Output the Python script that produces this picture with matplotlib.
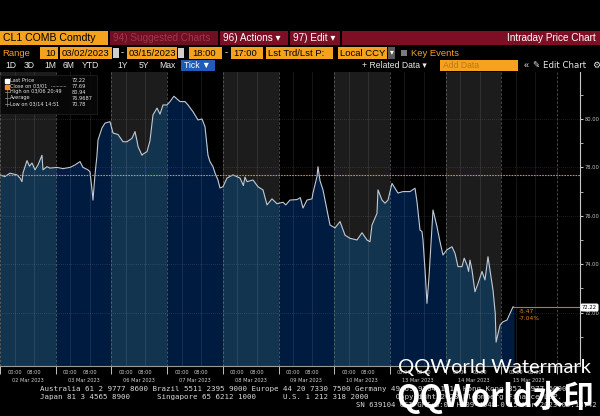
import matplotlib
matplotlib.use("Agg")
import matplotlib.pyplot as plt
from matplotlib.patches import Rectangle
import pandas as pd
import numpy as np

# ---------------- data ----------------
session_days = ["03-02", "03-03", "03-06", "03-07", "03-08",
                "03-09", "03-10", "03-13", "03-14", "03-15"]
session_labels = ["02 Mar 2023", "03 Mar 2023", "06 Mar 2023", "07 Mar 2023",
                  "08 Mar 2023", "09 Mar 2023", "10 Mar 2023", "13 Mar 2023",
                  "14 Mar 2023", "15 Mar 2023"]
session_open_prev_day = ["03-01", "03-02", "03-05", "03-06", "03-07",
                         "03-08", "03-09", "03-12", "03-13", "03-14"]

times = [
    "03-01 18:00", "03-01 20:00", "03-01 22:08", "03-02 01:00", "03-02 02:15", "03-02 03:05",
    "03-02 03:30", "03-02 05:09", "03-02 06:10", "03-02 07:13", "03-02 08:27", "03-02 09:41",
    "03-02 11:20", "03-02 11:45", "03-02 13:24", "03-02 14:39",
    "03-02 18:32", "03-02 21:00", "03-02 23:54", "03-03 01:58", "03-03 04:02",
    "03-03 05:16", "03-03 07:20", "03-03 08:10", "03-03 09:00", "03-03 09:24",
    "03-03 10:13", "03-03 11:03", "03-03 11:28", "03-03 13:07", "03-03 14:21",
    "03-03 16:25",
    "03-05 18:40", "03-05 20:44", "03-05 22:48", "03-06 00:26", "03-06 02:30",
    "03-06 03:45", "03-06 04:34", "03-06 05:00", "03-06 06:38", "03-06 07:03",
    "03-06 08:42", "03-06 09:56", "03-06 11:11", "03-06 12:50", "03-06 14:04",
    "03-06 15:18", "03-06 16:58",
    "03-06 19:12", "03-06 20:49", "03-06 23:20", "03-07 01:24", "03-07 02:38",
    "03-07 04:42", "03-07 06:46", "03-07 08:25", "03-07 09:39", "03-07 10:53",
    "03-07 11:42", "03-07 12:57", "03-07 13:47", "03-07 15:00", "03-07 15:50",
    "03-07 18:05", "03-07 19:44", "03-07 22:12", "03-08 01:06", "03-08 02:30",
    "03-08 03:10", "03-08 04:00",
    "03-08 06:28", "03-08 08:32", "03-08 10:36", "03-08 12:15", "03-08 14:19",
    "03-08 16:22",
    "03-08 19:52", "03-08 21:00", "03-08 22:45", "03-09 01:38", "03-09 03:00",
    "03-09 04:07", "03-09 05:46",
    "03-09 07:50", "03-09 08:14", "03-09 09:53", "03-09 10:18", "03-09 11:08",
    "03-09 12:22", "03-09 14:02", "03-09 15:16",
    "03-09 18:20", "03-09 20:24", "03-09 22:28", "03-10 00:31", "03-10 03:25",
    "03-10 05:29", "03-10 07:32", "03-10 08:47", "03-10 09:36", "03-10 11:40",
    "03-10 12:05", "03-10 13:44", "03-10 14:58", "03-10 16:13",
    "03-12 18:52", "03-12 20:06", "03-12 21:20", "03-12 23:24", "03-13 02:18",
    "03-13 04:22", "03-13 05:11", "03-13 06:26", "03-13 07:15", "03-13 07:40",
    "03-13 08:30", "03-13 09:19", "03-13 10:09", "03-13 11:23", "03-13 11:48",
    "03-13 13:27", "03-13 14:41", "03-13 15:55",
    "03-13 18:35", "03-13 20:38", "03-13 21:53", "03-13 23:07", "03-14 00:46",
    "03-14 01:40", "03-14 02:50", "03-14 03:30", "03-14 04:04", "03-14 04:54",
    "03-14 06:08", "03-14 07:23",
    "03-14 09:02", "03-14 10:16", "03-14 11:30", "03-14 12:20", "03-14 13:34",
    "03-14 14:30", "03-14 14:51", "03-14 16:30",
    "03-14 18:42", "03-14 20:21", "03-14 21:36", "03-14 22:50", "03-14 23:15",
]
prices = [
    77.69, 77.62, 77.76, 77.69, 77.56, 77.41, 77.77, 78.28, 78.05, 78.18, 77.90, 78.10,
    78.50, 77.90, 78.03, 77.97,
    78.00, 77.95, 78.00, 78.10, 78.24, 78.00, 77.90, 77.82, 77.07, 76.65,
    77.69, 78.50, 79.13, 79.63, 79.83, 79.89,
    79.42, 79.36, 79.06, 79.06, 79.20, 79.48, 79.10, 78.86, 78.50, 78.55,
    78.65, 79.10, 80.17, 80.45, 80.20, 80.58, 80.58,
    80.72, 80.94, 80.72, 80.72, 80.58, 80.30, 79.96, 80.00, 79.68, 78.50,
    78.24, 78.03, 77.77, 77.48, 77.15,
    77.20, 77.56, 77.69, 77.56, 77.25, 77.60, 77.41,
    77.48, 77.20, 77.07, 76.45, 76.70, 76.50,
    76.56, 76.45, 76.65, 76.67, 76.75, 76.32, 76.65,
    76.70, 76.94, 77.62, 78.03, 77.45, 77.07, 76.24, 75.62,
    75.50, 75.76, 75.20, 75.07, 75.00, 75.30, 75.00, 74.93, 75.62, 76.10,
    77.07, 76.65, 76.52, 76.65,
    77.34, 77.14, 76.94, 77.00, 77.00, 77.14, 76.58, 75.41, 75.35, 75.00,
    73.76, 72.38, 73.48, 75.55, 76.24, 75.55, 74.93, 74.38,
    74.60, 74.72, 74.45, 73.90, 73.90, 74.25, 73.97, 73.70, 74.17, 73.76,
    72.86, 73.20,
    73.70, 73.35, 74.31, 73.76, 72.93, 71.97, 70.78, 71.49,
    71.62, 71.69, 71.97, 72.24, 72.22,
]

close_prev = 77.69
last_price = 72.22
net_change = "-5.47"
pct_change = "-7.04%"
ytick_values = [72, 74, 76, 78, 80]
ytick_labels = ["72.00", "74.00", "76.00", "78.00", "80.00"]

legend_rows = [("Last Price", "72.22"), ("Close on 03/01", "77.69"),
               ("High on 03/06 20:49", "80.94"), ("Average", "76.9687"),
               ("Low on 03/14 14:51", "70.78")]

footer_lines = [
    "Australia 61 2 9777 8600 Brazil 5511 2395 9000 Europe 44 20 7330 7500 Germany 49 69 9204 1210 Hong Kong 852 2977 6000",
    "Japan 81 3 4565 8900      Singapore 65 6212 1000      U.S. 1 212 318 2000      Copyright 2023 Bloomberg Finance L.P.",
    "SN 639104 CST GMT+8:00 H409-4548-0 15-Mar-2023 05:13:42",
]

# ---------------- session-compressed time axis ----------------
SESSION_H = 23.0
opens = [pd.Timestamp("2023-" + d + " 18:00") for d in session_open_prev_day]


def to_pos(ts):
    t = pd.Timestamp("2023-" + ts)
    idx = 0
    for i, o in enumerate(opens):
        if t >= o:
            idx = i
    return idx * SESSION_H + (t - opens[idx]).total_seconds() / 3600.0


xpos = np.array([to_pos(t) for t in times])
yv = np.array(prices)

W, H = 600, 416
fig = plt.figure(figsize=(6, 4.16), dpi=100, facecolor="black")


def fx(x):
    return x / W


def fy(y):
    return 1 - y / H


AX_L, AX_R, AX_T, AX_B = 0, 580, 72, 366
ax = fig.add_axes([fx(AX_L), fy(AX_B), (AX_R - AX_L) / W, (AX_B - AX_T) / H])
ax.set_facecolor("black")
XMAX = SESSION_H * (AX_R - AX_L) / 55.7
YMIN = 80 - (AX_B - 119) / 24.2
YMAX = 80 + (119 - AX_T) / 24.2
ax.set_xlim(0, XMAX)
ax.set_ylim(YMIN, YMAX)

above_cols = ["#1c1c1c", "#000000"]
below_cols = ["#13344f", "#001b40"]
n_sess = len(session_days)
for i in range(n_sess):
    x0 = i * SESSION_H
    ax.axvspan(x0, x0 + SESSION_H, color=above_cols[i % 2], lw=0, zorder=0)
    poly = ax.fill_between(xpos, yv, YMIN, color=below_cols[i % 2], lw=0, zorder=1)
    clip = Rectangle((x0, YMIN), SESSION_H, YMAX - YMIN, transform=ax.transData)
    poly.set_clip_path(clip)

# grid
for v in ytick_values:
    ax.axhline(v, color="#ffffff", alpha=0.22, lw=0.5, ls=(0, (1, 2)), zorder=2)
for i in range(n_sess + 1):
    x0 = i * SESSION_H
    ax.axvline(x0, color="#888888", alpha=0.6, lw=0.6, ls=(0, (3, 2)), zorder=2)
    if i < n_sess:
        for hh in (6, 14):
            ax.axvline(x0 + hh, color="#ffffff", alpha=0.13, lw=0.5, zorder=2)

# price line
ax.plot(xpos, yv, color="#c2cad4", lw=0.8, zorder=4)
# close line
ax.axhline(close_prev, color="#e8891c", lw=0.8, ls=(0, (1.5, 1)), zorder=5)
# last price line
ax.plot([xpos[-1], XMAX], [last_price, last_price], color="#c8761c", lw=0.8, zorder=5)
ax.annotate(net_change, (xpos[-1], last_price), xytext=(5, -4), textcoords="offset pixels",
            color="#e8891c", fontsize=4.2, ha="left", va="center", zorder=6)
ax.annotate(pct_change, (xpos[-1], last_price), xytext=(5, -11), textcoords="offset pixels",
            color="#e8891c", fontsize=4.2, ha="left", va="center", zorder=6)

# axes styling
for s in ["top", "left"]:
    ax.spines[s].set_visible(False)
ax.spines["right"].set_color("#c8c8c8")
ax.spines["right"].set_linewidth(0.8)
ax.spines["bottom"].set_color("#9a9a9a")
ax.spines["bottom"].set_linewidth(0.8)
ax.yaxis.tick_right()
ax.set_yticks(ytick_values)
ax.set_yticklabels(ytick_labels)
ax.set_yticks([71, 73, 75, 77, 79, 81], minor=True)
ax.tick_params(axis="y", which="major", colors="#c8c8c8", labelsize=3.7, length=2.5, width=0.8, pad=0.8)
ax.tick_params(axis="y", which="minor", colors="#c8c8c8", length=1.8, width=0.6)

major_x = []
major_lab = []
for i in range(n_sess):
    major_x += [i * SESSION_H + 6, i * SESSION_H + 14]
    major_lab += ["00:00", "08:00"]
ax.set_xticks(major_x)
ax.set_xticklabels(major_lab)
ax.set_xticks([i * SESSION_H for i in range(n_sess + 1)], minor=True)
ax.tick_params(axis="x", which="major", colors="#cfcfcf", labelsize=3.6, length=0, pad=3)
ax.tick_params(axis="x", which="minor", colors="#e0e0e0", length=6, width=0.6)
for i, lab in enumerate(session_labels):
    ax.text(i * SESSION_H + SESSION_H / 2, -0.048, lab, transform=ax.get_xaxis_transform(),
            color="#cfcfcf", fontsize=3.6, ha="center", va="center")

# last price box on axis
fig.text(fx(589.5), fy(307.5), "72.22", color="black", fontsize=3.8, ha="center", va="center",
         bbox=dict(boxstyle="round,pad=0.15,rounding_size=0.2", fc="white", ec="white"))

# legend box
fig.patches.append(Rectangle((fx(0), fy(114)), 97 / W, 39 / H, transform=fig.transFigure,
                             fc="#080808", ec="#262626", lw=0.5, alpha=0.9, zorder=10))
leg_y = [80, 86, 92, 98, 104]
for (lab, val), yy in zip(legend_rows, leg_y):
    fig.text(fx(10), fy(yy), lab, color="#e6e6e6", fontsize=3.6, va="center", zorder=11)
    fig.text(fx(72), fy(yy), val, color="#e6e6e6", fontsize=3.6, va="center", zorder=11)
fig.patches.append(Rectangle((fx(5), fy(82.5)), 4 / W, 4 / H, transform=fig.transFigure,
                             fc="white", ec="white", zorder=11))
fig.patches.append(Rectangle((fx(5), fy(88.5)), 4 / W, 4 / H, transform=fig.transFigure,
                             fc="#f0961e", ec="#f0961e", zorder=11))
fig.lines.append(plt.Line2D([fx(51), fx(66)], [fy(86), fy(86)], transform=fig.transFigure,
                            color="#bbbbbb", lw=0.5, ls=(0, (1, 1)), zorder=11))
fig.lines.append(plt.Line2D([fx(7), fx(7)], [fy(90), fy(106)], transform=fig.transFigure,
                            color="#888888", lw=0.5, zorder=11))
for yy in (92, 98, 104):
    fig.lines.append(plt.Line2D([fx(5), fx(9)], [fy(yy), fy(yy)], transform=fig.transFigure,
                                color="#999999", lw=0.5, zorder=11))

# ---------------- header ----------------
ORANGE = "#f5a21e"
MAROON = "#7d0f25"
HFONT = ["Liberation Sans", "DejaVu Sans"]


def box(x0, y0, x1, y1, color, z=20):
    fig.patches.append(Rectangle((fx(x0), fy(y1)), (x1 - x0) / W, (y1 - y0) / H,
                                 transform=fig.transFigure, fc=color, ec="none", zorder=z))


def txt(x, y, s, color="white", size=7, ha="left", weight="normal", family=None):
    fig.text(fx(x), fy(y), s, color=color, fontsize=size, ha=ha, va="center",
             family=family if family else HFONT, weight=weight, zorder=25)


# row 1
box(0, 31, 108, 45, ORANGE)
txt(3, 38, "CL1 COMB Comdty", color="black", size=7.6)
box(110, 31, 218, 45, "#6e0f22")
txt(113, 38, "94) Suggested Charts", color="#a3364c", size=7.2)
box(220, 31, 288, 45, MAROON)
txt(223, 38, "96) Actions \u25be", size=7.2)
box(290, 31, 340, 45, MAROON)
txt(293, 38, "97) Edit \u25be", size=7.2)
box(342, 31, 600, 45, MAROON)
txt(596, 38, "Intraday Price Chart", size=7.2, ha="right")

# row 2
txt(2, 53, "Range", color=ORANGE, size=6.8)
box(40, 47, 58, 59, ORANGE)
txt(56, 53, "10", color="black", size=6.8, ha="right")
box(60, 47, 112, 59, ORANGE)
txt(62, 53, "03/02/2023", color="black", size=6.8)
box(113, 48, 119, 58, "#cfcfcf")
txt(121, 53, "-", color="white", size=6.8)
box(127, 47, 177, 59, ORANGE)
txt(129, 53, "03/15/2023", color="black", size=6.8)
box(178, 48, 184, 58, "#cfcfcf")
box(189, 47, 222, 59, ORANGE)
txt(192, 53, "18:00", color="black", size=6.8)
txt(225, 53, "-", color="white", size=6.8)
box(231, 47, 263, 59, ORANGE)
txt(233, 53, "17:00", color="black", size=6.8)
box(266, 47, 333, 59, ORANGE)
txt(268, 53, "Lst Trd/Lst P:", color="black", size=6.8)
box(338, 47, 387, 59, ORANGE)
txt(340, 53, "Local CCY", color="black", size=6.8)
box(388, 47, 395, 59, "#5a5a5a")
txt(391.5, 53, "\u25be", color="white", size=5.5, ha="center")
box(401, 50, 407, 56, "#7a7a7a")
txt(411, 53, "Key Events", color=ORANGE, size=6.8)

# row 3
for lab, xx in [("1D", 5), ("3D", 24), ("1M", 44), ("6M", 63), ("YTD", 82),
                ("1Y", 117), ("5Y", 139), ("Max", 159)]:
    txt(xx, 65.5, lab, color="#e8e8e8", size=6.2)
box(181, 60, 215, 71, "#1f5cb8")
txt(184, 65.5, "Tick \u25bc", color="white", size=6.2)
txt(362, 65.5, "+ Related Data \u25be", color="#e8e8e8", size=6.2)
box(440, 60, 518, 71, ORANGE)
txt(443, 65.5, "Add Data", color="#b77a1a", size=6.2)
txt(524, 65.5, "\u00ab", color="#e8e8e8", size=6.5)
txt(533, 65.5, "\u270e Edit Chart", color="#e8e8e8", size=6.2, family=["DejaVu Sans"])
txt(592, 65.5, "\u2699", color="#e8e8e8", size=6.5, family=["DejaVu Sans"])

# ---------------- footer ----------------
fig.text(fx(40), fy(389), footer_lines[0], color="#d8d8d8", fontsize=5.4,
         family="DejaVu Sans Mono", va="center", ha="left", zorder=20)
fig.text(fx(40), fy(397), footer_lines[1], color="#d8d8d8", fontsize=5.4,
         family="DejaVu Sans Mono", va="center", ha="left", zorder=20)
fig.text(fx(597), fy(405), footer_lines[2], color="#d8d8d8", fontsize=5.2,
         family="DejaVu Sans Mono", va="center", ha="right", zorder=20)

# watermark
fig.text(fx(398), fy(367), "QQWorld Watermark", color="white", fontsize=14.5,
         family="Lato", weight="normal", va="center", ha="left", zorder=30)
fig.text(fx(396), fy(397), "QQWorld\u6c34\u5370", color="white", fontsize=22,
         family=["Noto Sans CJK SC", "DejaVu Sans"], weight="bold", va="center", ha="left", zorder=30)

fig.savefig("out.png", dpi=100, facecolor="black")
